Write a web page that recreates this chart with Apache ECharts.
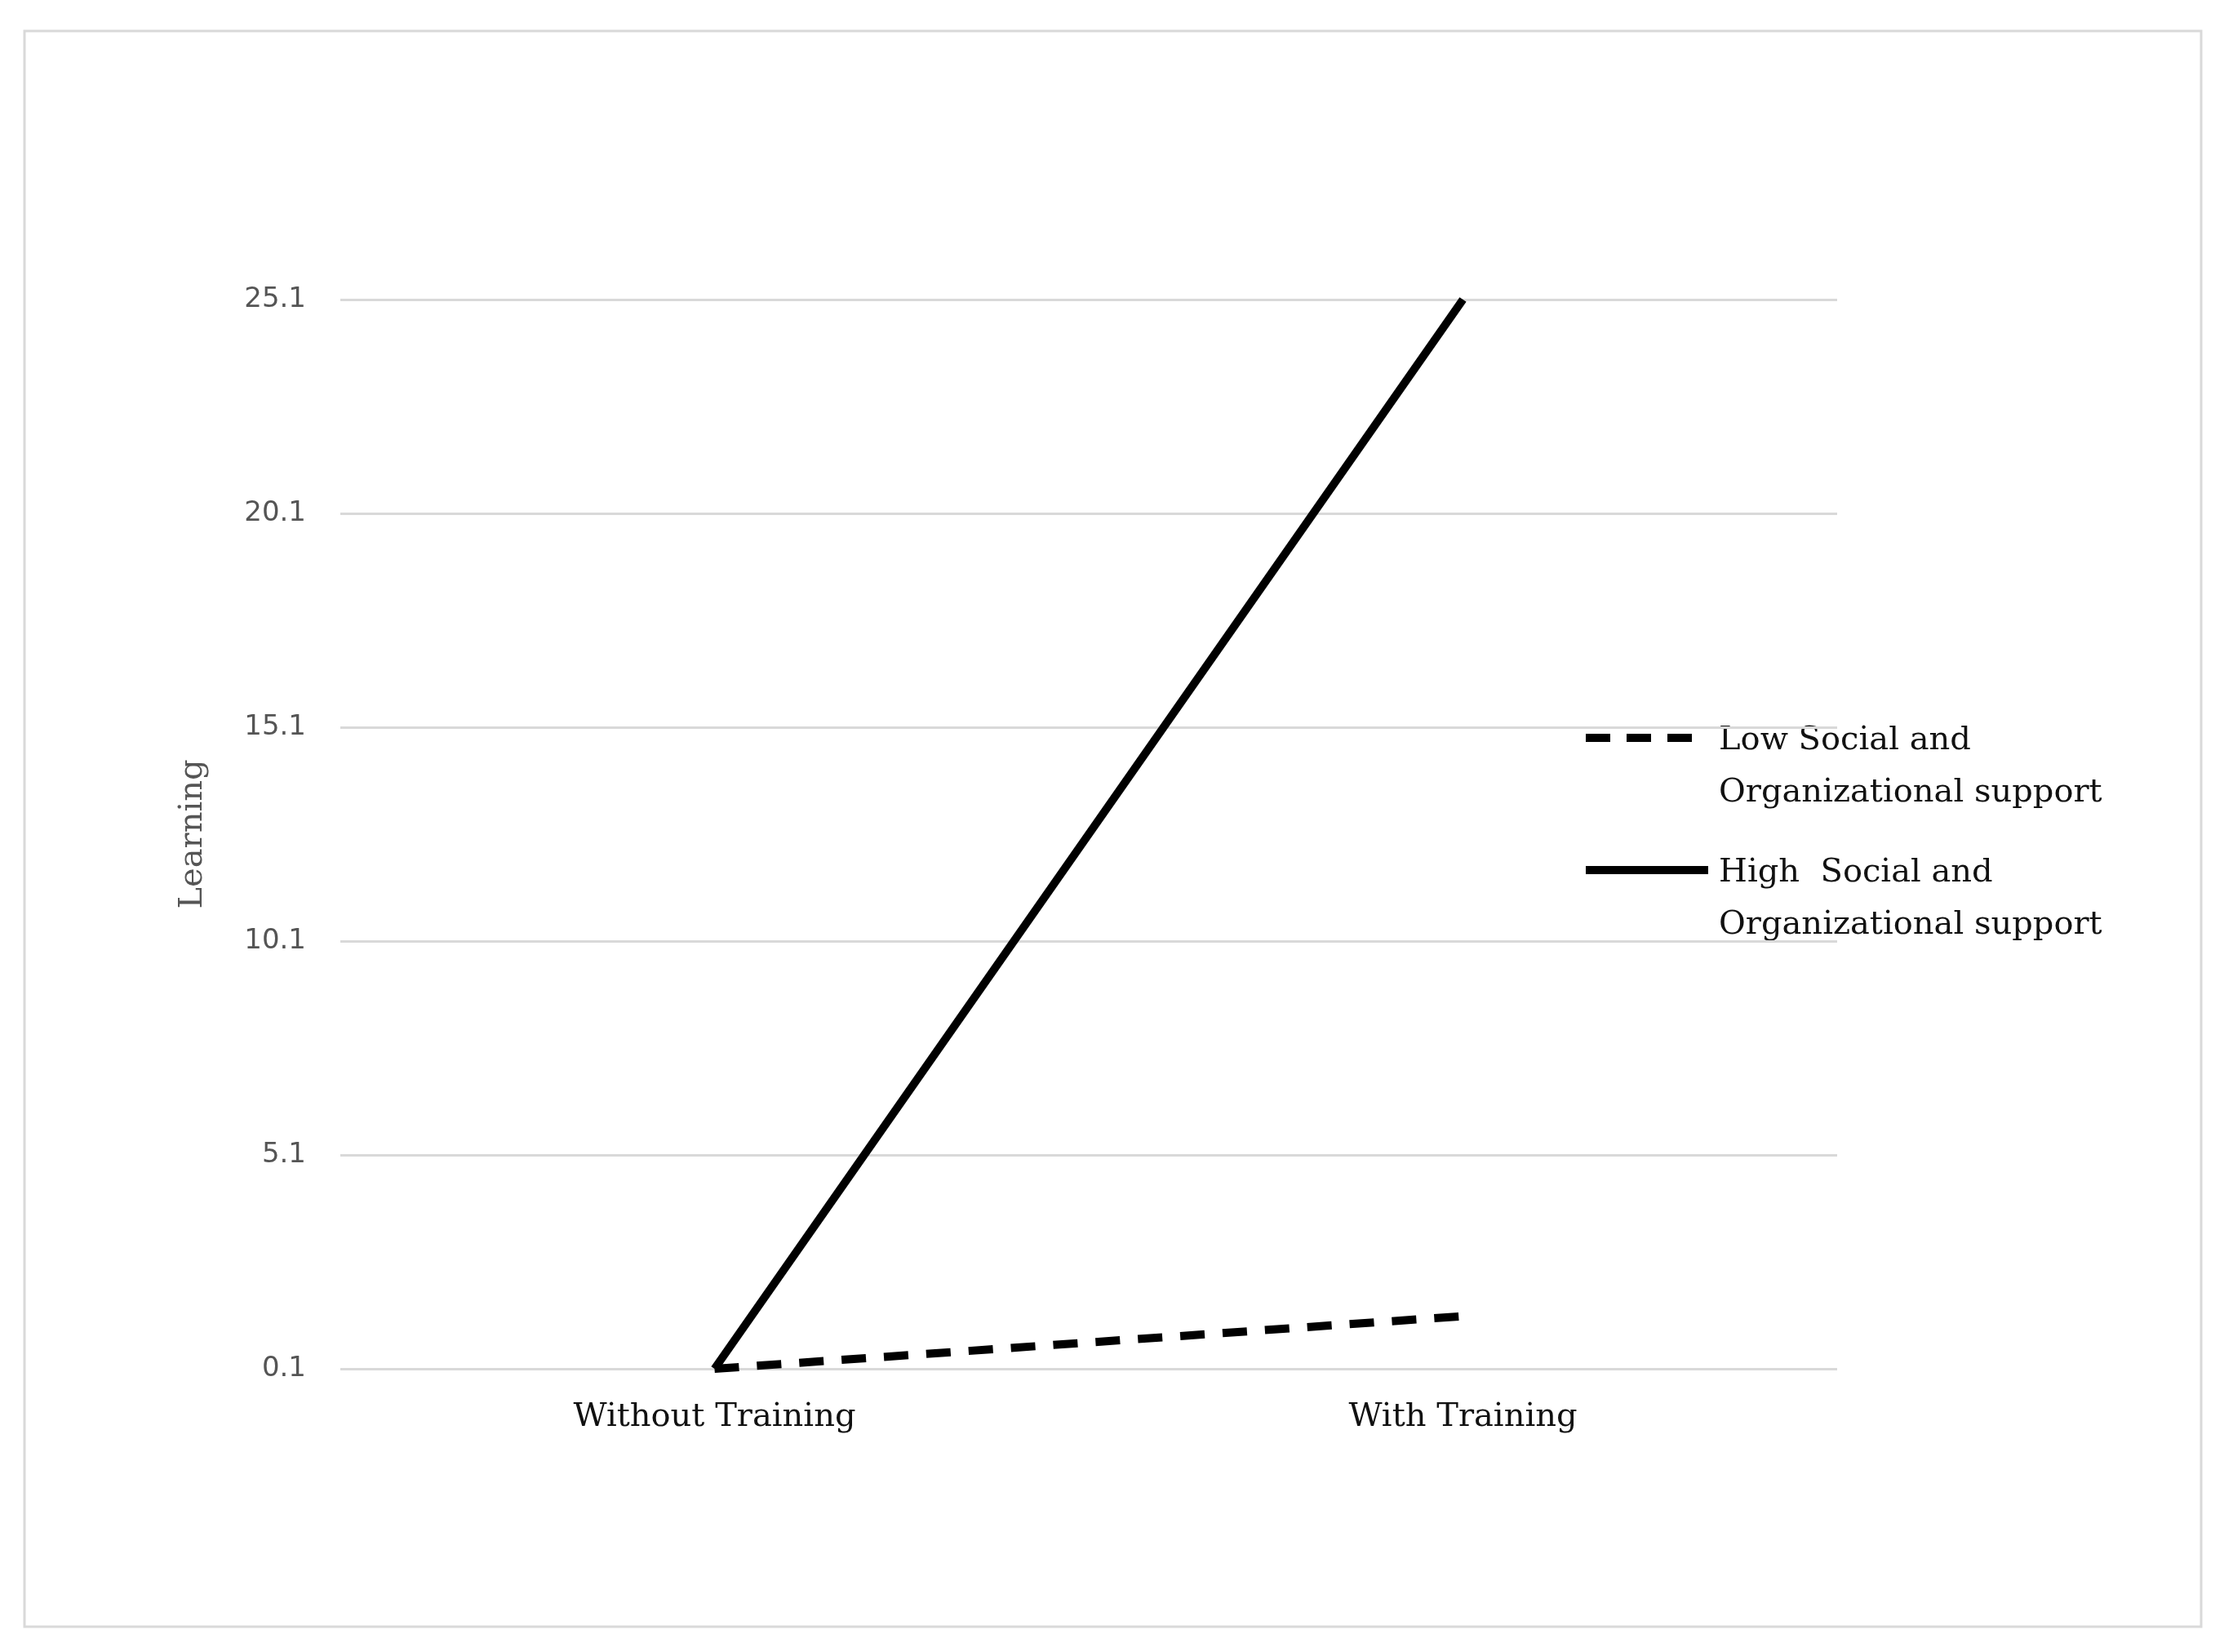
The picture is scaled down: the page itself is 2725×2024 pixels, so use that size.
<!DOCTYPE html>
<html>
<head>
<meta charset="utf-8">
<script src="https://cdn.jsdelivr.net/npm/echarts@6/dist/echarts.min.js"></script>
<style>html,body{margin:0;background:#fff}#chart{width:2725px;height:2024px}</style>
</head>
<body>
<div id="chart"></div>
<script>
var categories = ["Without Training", "With Training"];
var lowSupport = [0.1, 1.33];
var highSupport = [0.1, 25.1];
var yTicks = [0.1, 5.1, 10.1, 15.1, 20.1, 25.1];
var legendNames = ["Low Social and\nOrganizational support", "High  Social and\nOrganizational support"];

var chart = echarts.init(document.getElementById("chart"));
var serif = "DejaVu Serif";

// legend drawn by hand (two-line names)
var legendGraphic = [
  { type: "line", shape: { x1: 1943, y1: 904, x2: 2083, y2: 904 },
    style: { stroke: "#000", lineWidth: 10, lineDash: [30, 20] } },
  { type: "text", left: 2106, top: 876,
    style: { text: legendNames[0], font: "40px 'DejaVu Serif'", fill: "#111", lineHeight: 64 } },
  { type: "line", shape: { x1: 1943, y1: 1066, x2: 2093, y2: 1066 },
    style: { stroke: "#000", lineWidth: 10 } },
  { type: "text", left: 2106, top: 1038,
    style: { text: legendNames[1], font: "40px 'DejaVu Serif'", fill: "#111", lineHeight: 64 } }
];

chart.setOption({
  backgroundColor: "#fff",
  animation: false,
  graphic: [{
    type: "rect",
    shape: { x: 30, y: 38, width: 2667, height: 1955 },
    style: { fill: "none", stroke: "#d9d9d9", lineWidth: 3 }
  }].concat(legendGraphic),
  grid: { left: 417, right: 474, top: 367, bottom: 347, containLabel: false },
  xAxis: {
    type: "category",
    data: categories,
    boundaryGap: true,
    axisLine: { show: false },
    axisTick: { show: false },
    axisLabel: { fontFamily: serif, fontSize: 40, color: "#111", margin: 40 }
  },
  yAxis: {
    type: "value",
    min: 0.1,
    max: 25.1,
    name: "Learning",
    nameLocation: "middle",
    nameGap: 160,
    nameTextStyle: { fontFamily: serif, fontSize: 40, color: "#555" },
    axisLine: { show: false },
    axisTick: { show: false, customValues: yTicks },
    axisLabel: { customValues: yTicks, fontFamily: "DejaVu Sans", fontSize: 34, color: "#555", margin: 42 },
    splitLine: { show: true, lineStyle: { color: "#d9d9d9", width: 3 } }
  },
  series: [
    {
      name: legendNames[0],
      type: "line",
      data: lowSupport,
      symbol: "none",
      lineStyle: { color: "#000", width: 10, type: [30, 22] }
    },
    {
      name: legendNames[1],
      type: "line",
      data: highSupport,
      symbol: "none",
      lineStyle: { color: "#000", width: 10 }
    }
  ]
});
</script>
</body>
</html>
